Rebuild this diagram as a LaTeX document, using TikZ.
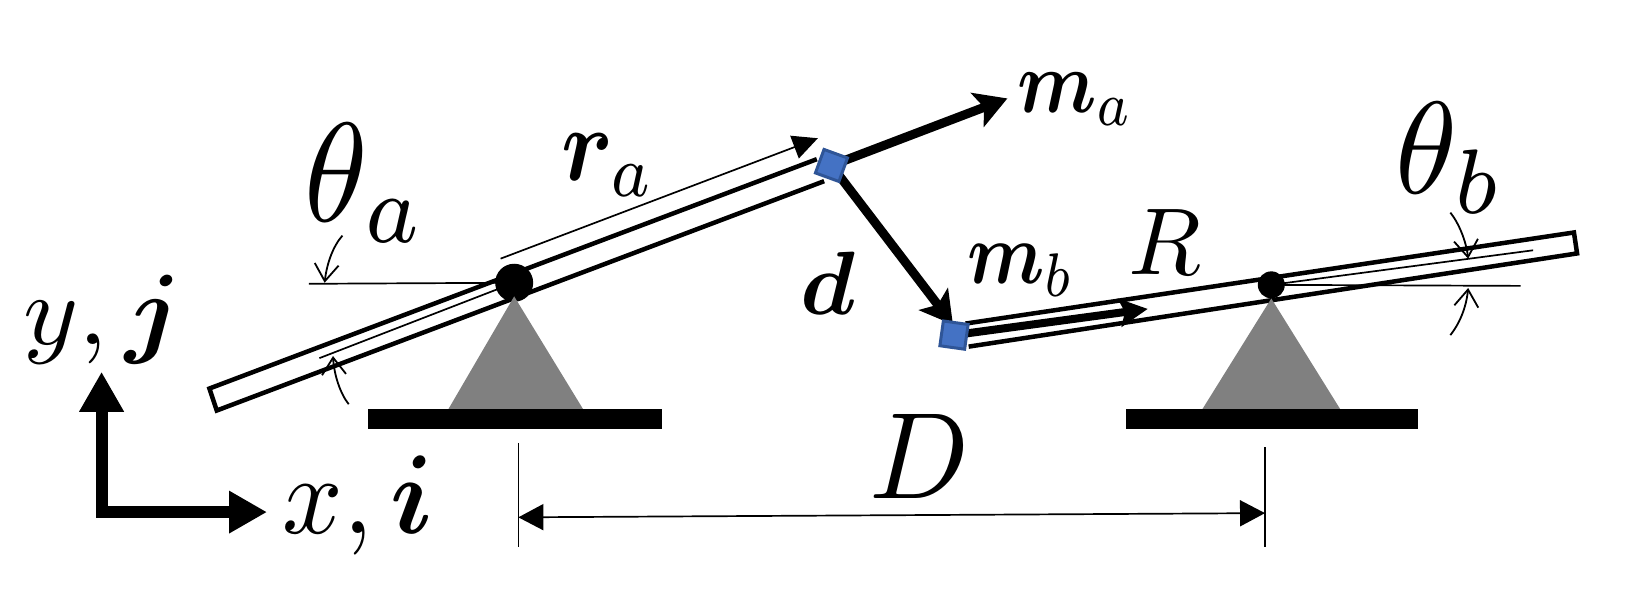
\documentclass[tikz,border=0pt]{standalone}
\usepackage{amsmath,bm}
\usetikzlibrary{arrows.meta}
\tikzset{
  beam/.style={draw=black,line width=4.5pt,fill=white,line join=miter},
  thin line/.style={draw=black,line width=1.7pt},
  vec/.style={draw=black,line width=9pt},
  massbox/.style={draw={rgb,255:red,47;green,85;blue,151},line width=3pt,fill={rgb,255:red,68;green,114;blue,196},minimum size=25pt,inner sep=0pt,outer sep=0pt},
  pivot/.style={circle,fill=black,inner sep=0pt,outer sep=0pt},
  support/.style={fill={rgb,255:red,128;green,128;blue,128}},
  ground/.style={fill=black},
  lab/.style={inner sep=0pt,outer sep=0pt,anchor=center},
}
\begin{document}
\begin{tikzpicture}[x=1.0472pt,y=-1.0472pt]
\useasboundingbox (0,0) rectangle (1568,563.4);
% named points
\coordinate (A1) at (200,371); \coordinate (A2) at (207,392);
\coordinate (A3) at (787,173); \coordinate (A4) at (780,152);
\coordinate (B1) at (922,309); \coordinate (B2) at (1503,222);
\coordinate (B3) at (1506,242); \coordinate (B4) at (925,331);
\coordinate (Ma) at (794,158); \coordinate (Mb) at (911,320);
\coordinate (PA) at (491,270); \coordinate (PB) at (1214,272);
% beams
\draw[beam] (A4) -- (A1) -- (A2) -- (A3);
\draw[beam] (B1) -- (B2) -- (B3) -- (B4);
% reference lines
\coordinate (ha) at (295,271); \coordinate (ia) at (305,342);
\coordinate (hb) at (1452,273); \coordinate (ib) at (1464,239);
\draw[thin line] (ha) -- (PA);
\draw[thin line] (ia) -- (PA);
\draw[thin line] (hb) -- (PB);
\draw[thin line] (ib) -- (PB);
% angle arrows
\coordinate (a1s) at (327,225); \coordinate (a1e) at (310,270);
\coordinate (a2s) at (333,386); \coordinate (a2e) at (318,340);
\coordinate (b1s) at (1385,203); \coordinate (b1e) at (1402,247);
\coordinate (b2s) at (1385,320); \coordinate (b2e) at (1402,275);
\tikzset{ang/.style={draw=black,line width=1.8pt,-{Straight Barb[length=17pt,width=24pt]}}}
\draw[ang] (a1s) .. controls (318,235) and (312,252) .. (a1e);
\draw[ang] (a2s) .. controls (325,376) and (319,358) .. (a2e);
\draw[ang] (b1s) .. controls (1393,213) and (1400,230) .. (b1e);
\draw[ang] (b2s) .. controls (1393,310) and (1400,295) .. (b2e);
% r_a dimension
\coordinate (r1) at (478,247); \coordinate (r2) at (781,132);
\draw[thin line,-{Triangle[length=25pt,width=24pt]}] (r1) -- (r2);
% vectors
\coordinate (maT) at (962,94); \coordinate (dT) at (910,310);
\coordinate (rT) at (1096,295);
\draw[vec,-{Stealth[length=32pt,width=36pt,inset=7pt]}] (Ma) -- (maT);
\draw[vec,-{Stealth[length=32pt,width=36pt,inset=7pt]}] (Ma) -- (dT);
\draw[draw=black,line width=8pt,-{Stealth[length=28pt,width=28pt,inset=5pt]}] (Mb) -- (rT);
% D dimension
\coordinate (d1a) at (495,423); \coordinate (d1b) at (495,522);
\coordinate (d2a) at (1208,427); \coordinate (d2b) at (1208,522);
\coordinate (D1) at (495,494); \coordinate (D2) at (1208,490);
\draw[thin line] (d1a) -- (d1b);
\draw[thin line] (d2a) -- (d2b);
\draw[thin line,{Triangle[length=25pt,width=26pt]}-{Triangle[length=25pt,width=26pt]}] (D1) -- (D2);
% axes
\coordinate (O) at (97,489); \coordinate (Oy) at (97,355); \coordinate (Ox) at (255,489);
\draw[draw=black,line width=12pt,line join=miter,{Triangle[length=40pt,width=42pt]}-{Triangle[length=38pt,width=40pt]}] (Oy) -- (O) -- (Ox);
% masses and pivots
\node[massbox,rotate=-20] (mA) at (Ma) {};
\node[massbox,rotate=-8] (mB) at (Mb) {};
\node[pivot,minimum size=38pt] (pA) at (PA) {};
\node[pivot,minimum size=27pt] (pB) at (PB) {};
% supports
\fill[support] (491,283) -- (557,391) -- (428,391) -- cycle;
\fill[support] (1214,285) -- (1280,391) -- (1148,391) -- cycle;
\fill[ground] (351,391) rectangle (632,410);
\fill[ground] (1075,391) rectangle (1354,410);
% labels
\node[lab,xscale=12.8,yscale=14.1] (tha) at (349,175) {$\theta_a$};
\node[lab,xscale=12.5,yscale=13.1] (thb) at (1385,151) {$\theta_b$};
\node[lab,xscale=9.3,yscale=10.5] (lra) at (581,158) {$\bm{r}_a$};
\node[lab,xscale=7.7,yscale=8.9] (lma) at (1027,95) {$\bm{m}_a$};
\node[lab,xscale=7.5,yscale=8.8] (lmb) at (975,258) {$\bm{m}_b$};
\node[lab,scale=9] (ld) at (791,270) {$\bm{d}$};
\node[lab,scale=9.5] (lR) at (1112,231) {$R$};
\node[lab,xscale=11.7,yscale=12.3] (lD) at (878,436) {$D$};
\node[lab,xscale=10.5,yscale=10] (lyj) at (98,305) {$y,\bm{j}$};
\node[lab,xscale=10.6,yscale=11.2] (lxi) at (342,483) {$x,\bm{i}$};
\end{tikzpicture}
\end{document}
